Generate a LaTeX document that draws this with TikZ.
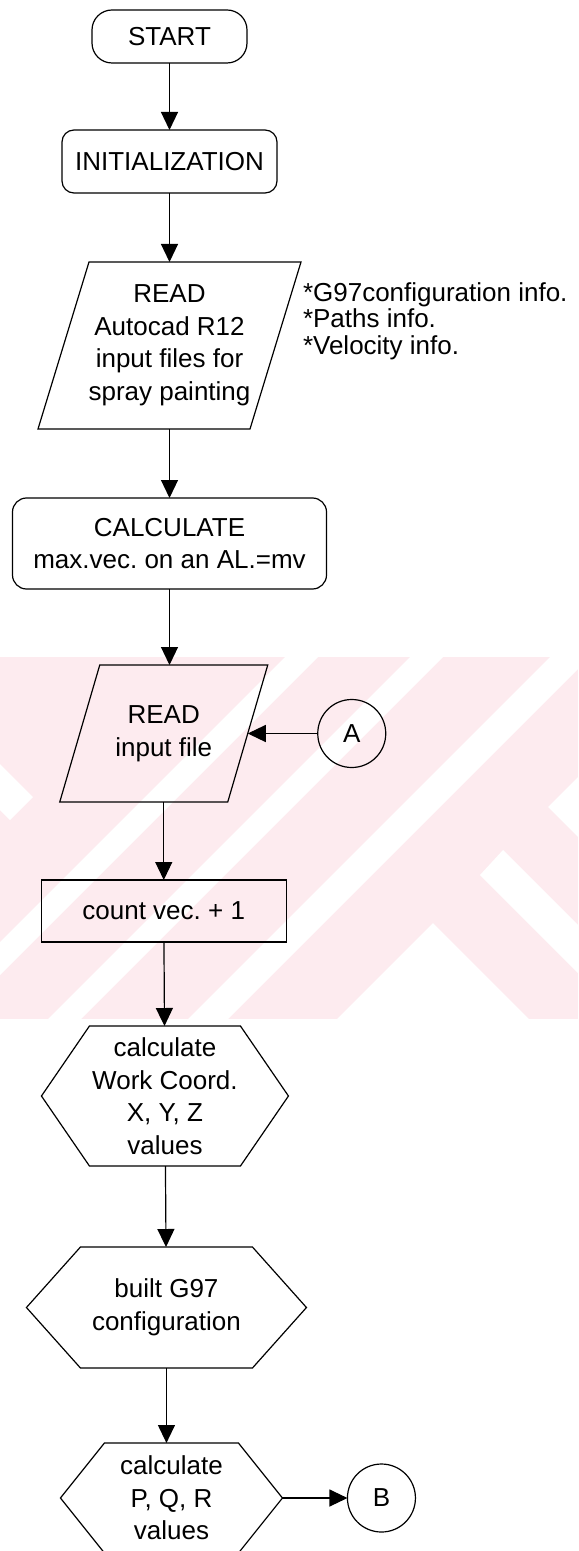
\documentclass[tikz,border=0pt]{standalone}
\usepackage{fontspec}
\setmainfont{Liberation Sans}
\usetikzlibrary{arrows.meta,calc,positioning}
\definecolor{wmpink}{RGB}{253,235,239}

\begin{document}
\frenchspacing
\begin{tikzpicture}[x=0.5pt,y=-0.5pt,>={Triangle[length=9pt,width=8.5pt]},line width=0.6pt]
  \tikzstyle{txt}=[font=\fontsize{13}{16.25}\selectfont,align=center,inner sep=0pt,outer sep=0pt]
  \tikzstyle{term}=[txt,draw,rounded corners=10pt,minimum width=77.5pt,minimum height=26.5pt]
  \tikzstyle{conn}=[txt,draw,circle,minimum size=34pt]
  \tikzstyle{note}=[txt,align=left,font=\fontsize{13}{13.2}\selectfont]
  \tikzset{
    proc/.style n args={3}{txt,draw,minimum width=#1,minimum height=#2,rounded corners=#3},
    inout/.style n args={3}{txt,minimum width=#1,minimum height=#2,
      append after command={\pgfextra{\draw
        ($(\tikzlastnode.north west)+(#3,0)$) -- ($(\tikzlastnode.north east)+(#3,0)$) --
        ($(\tikzlastnode.south east)-(#3,0)$) -- ($(\tikzlastnode.south west)-(#3,0)$) -- cycle;}}},
    hexa/.style n args={3}{txt,minimum width=#1,minimum height=#2,
      append after command={\pgfextra{\draw
        ($(\tikzlastnode.north west)+(#3,0)$) -- ($(\tikzlastnode.north east)-(#3,0)$) --
        (\tikzlastnode.east) -- ($(\tikzlastnode.south east)-(#3,0)$) --
        ($(\tikzlastnode.south west)+(#3,0)$) -- (\tikzlastnode.west) -- cycle;}}}
  }
  \useasboundingbox (0,0) rectangle (578,1551);

  % faint watermark behind the middle part
  \fill[wmpink] (0,657) rectangle (578,1019);
  \begin{scope}
    \clip (0,657) rectangle (578,1019);
    \fill[white] (285,657) -- (318,657) -- (-44,1019) -- (-77,1019) -- cycle;
    \fill[white] (410,657) -- (443,657) -- (81,1019) -- (48,1019) -- cycle;
    \fill[white] (550,657) -- (590,657) -- (228,1019) -- (188,1019) -- cycle;
    \fill[white] (337,1019) -- (433,923) -- (529,1019) -- cycle;
    \fill[white] (503,850) -- (578,925) -- (578,973) -- (480,875) -- cycle;
    \fill[white] (578,777) -- (548,807) -- (578,837) -- cycle;
    \fill[white] (0,764) -- (33,797) -- (10,820) -- (0,810) -- cycle;
  \end{scope}

  \node[term]                         (start) at (169.5,36.5) {START};
  \node[proc={107.5pt}{31.5pt}{6pt}]  (init)  [below=33.5pt of start] {INITIALIZATION};
  \node[inout={106pt}{83.5pt}{12.75pt}] (read1) [below=34.5pt of init]
        {READ\\Autocad R12\\input files for\\spray painting};
  \node[note]                         (info)  [right=13.75pt of read1, yshift=12.25pt]
        {*G97configuration info.\\*Paths info.\\*Velocity info.};
  \node[proc={157pt}{45.5pt}{7pt}]    (calc)  [below=34.5pt of read1] {CALCULATE\\max.vec. on an AL.=mv};
  \node[inout={84pt}{68.5pt}{10pt}]   (read2) [below=38pt of calc, xshift=-2.875pt] {READ\\input file};
  \node[conn]                         (A)     [right=35pt of read2] {A};
  \node[proc={122.5pt}{31pt}{0pt}]    (count) [below=39pt of read2] {count vec. + 1};
  \node[hexa={123.5pt}{70pt}{24pt}]   (work)  [below=42pt of count, xshift=0.6pt]
        {calculate\\Work Coord.\\X, Y, Z\\values};
  \node[hexa={140pt}{60.5pt}{27pt}]   (build) [below=40.5pt of work, xshift=0.75pt] {built G97\\configuration};
  \node[hexa={111pt}{55pt}{22pt}]     (pqr)   [below=37.5pt of build, xshift=2.5pt]
        {calculate\\P, Q, R\\values};
  \node[conn]                         (B)     [right=32.5pt of pqr] {B};

  \path[->]
    (start) edge (init)
    (init)  edge (read1)
    (read1) edge (calc)
    (calc)  edge (calc.south |- read2.north)
    (A)     edge (read2)
    (count.north |- read2.south) edge (count)
    (count) edge (work)
    (work)  edge (build)
    (build) edge (build.south |- pqr.north)
    (pqr)   edge (B);
\end{tikzpicture}
\end{document}
